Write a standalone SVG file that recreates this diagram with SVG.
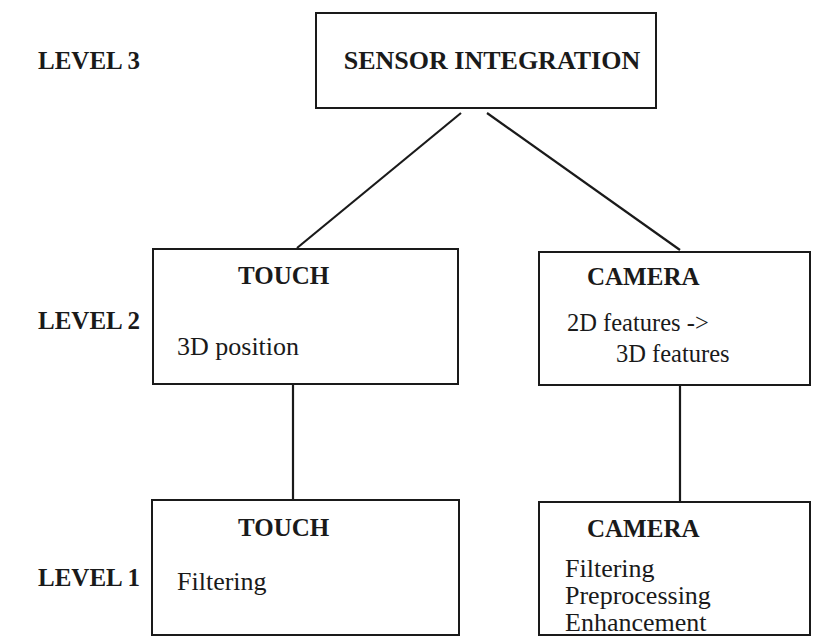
<svg xmlns="http://www.w3.org/2000/svg" width="814" height="637" viewBox="0 0 814 637">
<style>
.box{fill:none;stroke:#1a1a1a;stroke-width:2}
.ln{stroke:#1a1a1a;stroke-width:2.2;fill:none}
.b{font-family:"Liberation Serif","Times New Roman",serif;font-weight:bold;font-size:25px;fill:#1a1a1a}
.r{font-family:"Liberation Serif","Times New Roman",serif;font-size:26px;fill:#1a1a1a}
.r2{font-family:"Liberation Serif","Times New Roman",serif;font-size:24.5px;fill:#1a1a1a}
</style>
<rect width="814" height="637" fill="#ffffff"/>
<g id="levels">
<text class="b" x="38" y="69">LEVEL 3</text>
<text class="b" x="38" y="329">LEVEL 2</text>
<text class="b" x="38" y="586">LEVEL 1</text>
</g>
<g id="connectors">
<line class="ln" x1="461" y1="113" x2="297" y2="248"/>
<line class="ln" x1="487" y1="113" x2="680" y2="250"/>
<line class="ln" x1="293" y1="384" x2="293" y2="500"/>
<line class="ln" x1="680" y1="385" x2="680" y2="502"/>
</g>
<g id="sensor-integration">
<rect class="box" x="316" y="13" width="340" height="95"/>
<text class="b" x="492" y="69" text-anchor="middle" style="font-size:26px">SENSOR INTEGRATION</text>
</g>
<g id="touch-2">
<rect class="box" x="153" y="249" width="305" height="135"/>
<text class="b" x="238" y="284">TOUCH</text>
<text class="r" x="177" y="355">3D position</text>
</g>
<g id="camera-2">
<rect class="box" x="539" y="252" width="271" height="133"/>
<text class="b" x="587" y="285">CAMERA</text>
<text class="r2" x="567" y="331">2D features -&gt;</text>
<text class="r2" x="616" y="362">3D features</text>
</g>
<g id="touch-1">
<rect class="box" x="152" y="500" width="307" height="135"/>
<text class="b" x="238" y="536">TOUCH</text>
<text class="r" x="177" y="590">Filtering</text>
</g>
<g id="camera-1">
<rect class="box" x="539" y="502" width="271" height="133"/>
<text class="b" x="587" y="537">CAMERA</text>
<text class="r" x="565" y="577">Filtering</text>
<text class="r" x="565" y="604">Preprocessing</text>
<text class="r" x="565" y="631">Enhancement</text>
</g>
</svg>
